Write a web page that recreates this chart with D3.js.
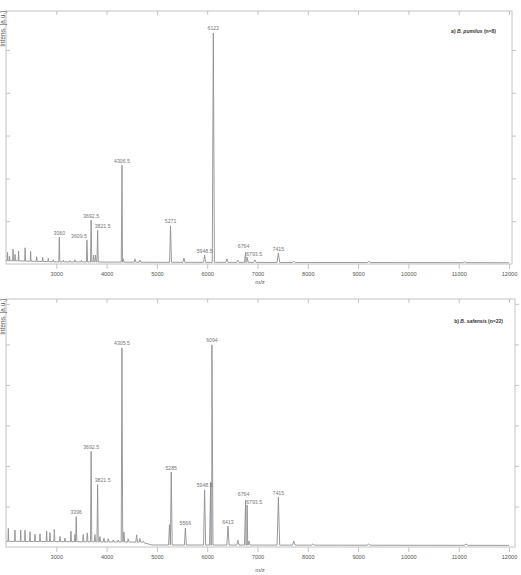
<!DOCTYPE html>
<html>
<head>
<meta charset="utf-8">
<script src="https://cdn.jsdelivr.net/npm/d3@7/dist/d3.min.js"></script>
<style>
body { margin: 0; background: #fff; }
text { font-family: "Liberation Sans", Arial, sans-serif; }
</style>
</head>
<body>
<div id="chart"></div>
<script>
// a) B. pumilus (n=8) - labelled peaks (m/z, intensity above baseline, a.u. x1000)
const topPeakMz  = [3060, 3609.5, 3692.5, 3821.5, 4306.5, 5271, 5948.5, 6122, 6764, 6793.5, 7415];
const topPeakInt = [0.58, 0.51, 0.98, 0.74, 2.26, 0.85, 0.17, 5.36, 0.24, 0.12, 0.22];
// unlabelled small peaks
const topMinorMz  = [2030, 2070, 2140, 2180, 2250, 2380, 2490, 2610, 2730, 2840, 2940, 3140, 3270, 3370, 3500,
                     3740, 3780, 4331, 4563, 4662, 5537, 6391, 6610, 6947, 7722, 9213, 11120];
const topMinorInt = [0.19, 0.11, 0.27, 0.15, 0.23, 0.31, 0.23, 0.11, 0.10, 0.08, 0.05, 0.04, 0.03, 0.05, 0.04,
                     0.16, 0.16, 0.08, 0.08, 0.05, 0.10, 0.08, 0.05, 0.06, 0.03, 0.03, 0.02];
const topBaseMz    = [2000, 3000, 5000, 12000];
const topBaseLevel = [0.08, 0.05, 0.04, 0.03];

// b) B. safensis (n=22)
const botPeakMz  = [3396, 3692.5, 3821.5, 4305.5, 5285, 5566, 5948.5, 6094, 6413, 6764, 6793.5, 7415];
const botPeakInt = [0.62, 2.23, 1.41, 4.79, 1.80, 0.42, 1.36, 4.94, 0.47, 1.11, 0.99, 1.18];
const botMinorMz  = [2046, 2179, 2292, 2378, 2477, 2576, 2676, 2808, 2874, 2961, 3073, 3172, 3291, 3371, 3536,
                     3616, 3768, 3868, 3947, 4033, 4132, 4232, 4344, 4430, 4597, 4662, 4729,
                     5250, 6068, 6610, 6830, 7722, 8100, 9210, 11150];
const botMinorInt = [0.32, 0.28, 0.28, 0.28, 0.24, 0.18, 0.19, 0.26, 0.22, 0.30, 0.13, 0.09, 0.26, 0.18, 0.18,
                     0.22, 0.18, 0.13, 0.09, 0.08, 0.05, 0.05, 0.25, 0.08, 0.18, 0.09, 0.03,
                     0.50, 1.55, 0.12, 0.10, 0.10, 0.03, 0.03, 0.03];
const botBaseMz    = [2000, 4700, 4900, 12000];
const botBaseLevel = [0.14, 0.12, 0.05, 0.04];

const xTicks = [3000, 4000, 5000, 6000, 7000, 8000, 9000, 10000, 11000, 12000];

// label nudges (px) where the label sits off the peak
const labelNudge = {"3609.5": [-8, 0], "3821.5": [5, 0], "6793.5": [7, 1.5], "6764": [-2, -1.5]};

const W = 521, H = 575;
const svg = d3.select("#chart").append("svg")
  .attr("width", W)
  .attr("height", H);

const x = d3.scaleLinear().domain([2000, 12000]).range([6, 509]);

function spectrum(peakMz, peakInt, baseMz, baseLevel) {
  var base = d3.scaleLinear().domain(baseMz).range(baseLevel).clamp(true);
  var pts = baseMz.map(function(m, i) { return [m, baseLevel[i]]; });
  peakMz.forEach(function(m, i) {
    var w = m * 0.0035;
    pts.push([m - w, base(m - w)], [m, base(m) + peakInt[i]], [m + w, base(m + w)]);
  });
  pts.sort(function(a, b) { return a[0] - b[0]; });
  return {pts: pts, base: base};
}

function drawPanel(p) {
  var y = d3.scaleLinear().domain([0, p.yMax]).range([p.bottom, p.top]);
  var g = svg.append("g");

  // border box
  g.append("rect")
    .attr("x", x(2000)).attr("y", p.top)
    .attr("width", p.right - x(2000)).attr("height", p.bottom - p.top)
    .attr("fill", "none").attr("stroke", "#c4c4c4").attr("stroke-width", 1);

  // x axis bottom
  var xb = g.append("g")
    .attr("transform", "translate(0," + p.bottom + ")")
    .call(d3.axisBottom(x).tickValues(xTicks).tickSize(5).tickPadding(3).tickFormat(d3.format("d")));
  xb.select(".domain").remove();
  xb.selectAll("line").attr("stroke", "#c4c4c4");
  xb.selectAll("text").attr("fill", "#555").style("font-size", "5.6px");

  // top ticks
  var xt = g.append("g")
    .attr("transform", "translate(0," + p.top + ")")
    .call(d3.axisTop(x).tickValues(xTicks).tickSize(-4).tickFormat(""));
  xt.select(".domain").remove();
  xt.selectAll("line").attr("stroke", "#c4c4c4");

  // y ticks left / right
  var yl = g.append("g")
    .attr("transform", "translate(" + x(2000) + ",0)")
    .call(d3.axisLeft(y).tickValues(p.yTicks).tickSize(-4).tickFormat(""));
  yl.select(".domain").remove();
  yl.selectAll("line").attr("stroke", "#c4c4c4");
  var yr = g.append("g")
    .attr("transform", "translate(" + p.right + ",0)")
    .call(d3.axisRight(y).tickValues(p.yTicks).tickSize(4).tickFormat(""));
  yr.select(".domain").remove();
  yr.selectAll("line").attr("stroke", "#c4c4c4");

  // spectrum
  var s = spectrum(p.peakMz.concat(p.minorMz), p.peakInt.concat(p.minorInt), p.baseMz, p.baseLevel);
  var line = d3.line()
    .x(function(d) { return x(d[0]); })
    .y(function(d) { return y(d[1]); });
  g.append("path")
    .datum(s.pts)
    .attr("d", line)
    .attr("fill", "none")
    .attr("stroke", "#909090")
    .attr("stroke-width", 0.9);

  // peak labels
  g.selectAll(".peaklabel")
    .data(p.peakMz)
    .enter().append("text")
    .attr("class", "peaklabel")
    .attr("x", function(m) { return x(m) + (labelNudge[String(m)] || [0, 0])[0]; })
    .attr("y", function(m, i) { return y(s.base(m) + p.peakInt[i]) - 2.5 + (labelNudge[String(m)] || [0, 0])[1]; })
    .style("text-anchor", "middle")
    .style("font-size", "5.2px")
    .attr("fill", "#777")
    .text(function(m) { return String(m); });

  // title
  var t = g.append("text")
    .attr("x", p.titleX).attr("y", p.titleY)
    .style("text-anchor", "end")
    .style("font-size", "5px")
    .style("font-weight", "bold")
    .attr("fill", "#333");
  t.append("tspan").text(p.tag + " ");
  t.append("tspan").style("font-style", "italic").text(p.species);
  t.append("tspan").text(" " + p.n);

  // axis labels
  g.append("text")
    .attr("x", 260).attr("y", p.mzY)
    .style("text-anchor", "middle")
    .style("font-size", "6px")
    .attr("fill", "#555")
    .text("m/z");

  g.append("text")
    .attr("transform", "translate(5," + p.top + ") rotate(-90)")
    .style("text-anchor", "end")
    .style("font-size", "6.5px")
    .attr("fill", "#555")
    .text("Intens. [a.u.]");
}

drawPanel({
  top: 11, bottom: 264, right: 512, yMax: 5.91, yTicks: [1, 2, 3, 4, 5],
  peakMz: topPeakMz, peakInt: topPeakInt, minorMz: topMinorMz, minorInt: topMinorInt,
  baseMz: topBaseMz, baseLevel: topBaseLevel,
  tag: "a)", species: "B. pumilus", n: "(n=8)", titleX: 496, titleY: 33, mzY: 284
});

drawPanel({
  top: 299, bottom: 547, right: 515, yMax: 6.12, yTicks: [1, 2, 3, 4, 5, 6],
  peakMz: botPeakMz, peakInt: botPeakInt, minorMz: botMinorMz, minorInt: botMinorInt,
  baseMz: botBaseMz, baseLevel: botBaseLevel,
  tag: "b)", species: "B. safensis", n: "(n=22)", titleX: 503, titleY: 323, mzY: 572
});
</script>
</body>
</html>
